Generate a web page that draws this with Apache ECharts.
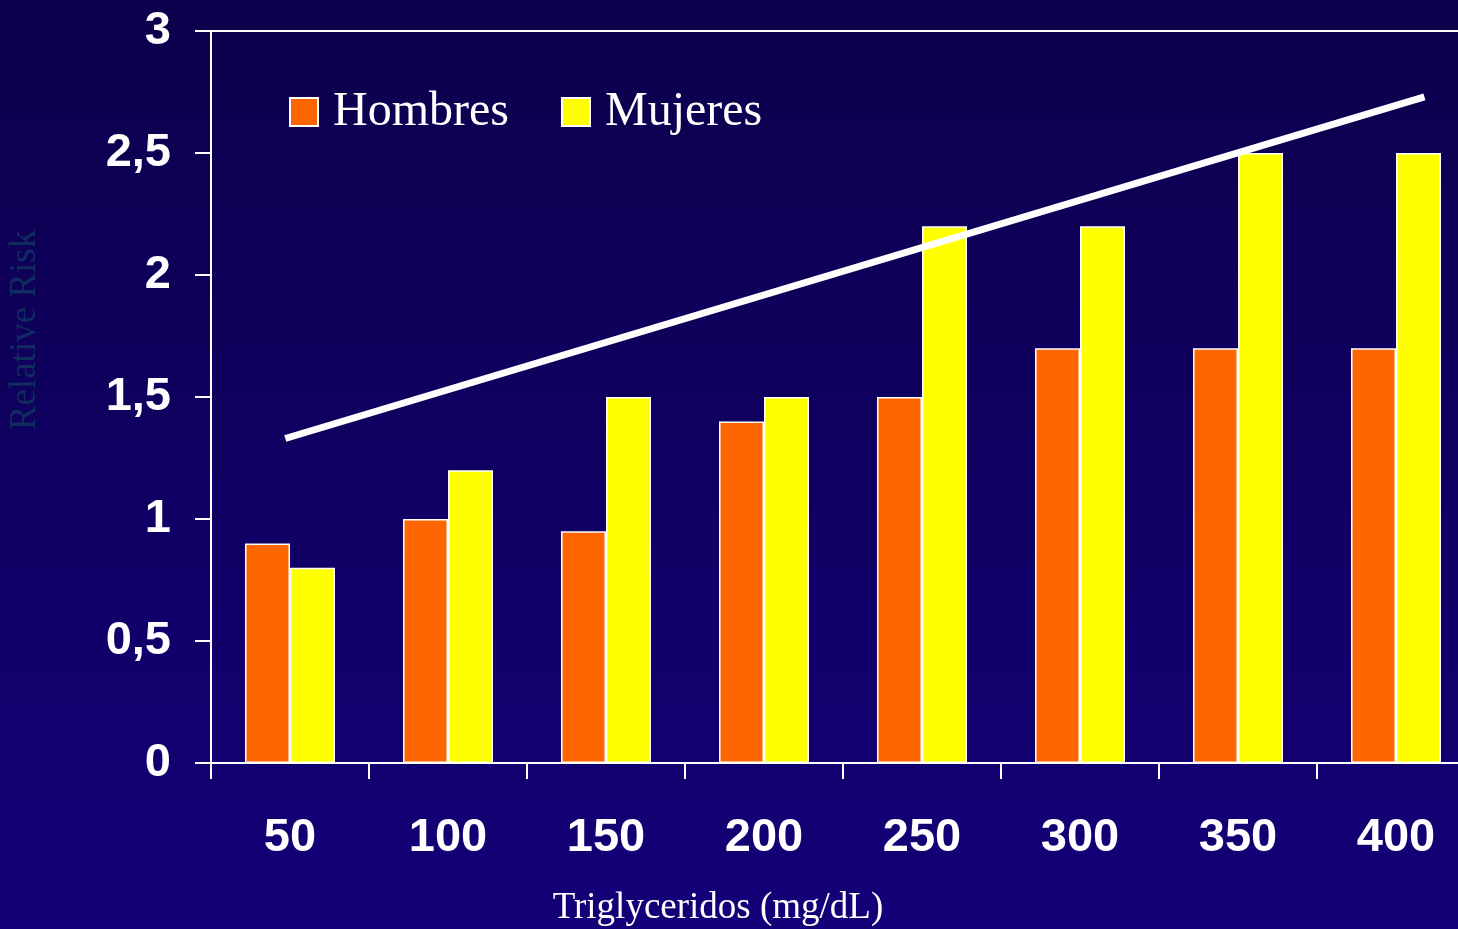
<!DOCTYPE html>
<html>
<head>
<meta charset="utf-8">
<script src="https://cdn.jsdelivr.net/npm/echarts@6/dist/echarts.min.js"></script>
<style>
html,body{margin:0;padding:0;overflow:hidden;width:1458px;height:929px;background:#10005f;}
#c{width:1475px;height:929px;}
</style>
</head>
<body>
<div id="c"></div>
<script>
const categories = ['50','100','150','200','250','300','350','400'];
const hombres = [0.9, 1.0, 0.95, 1.4, 1.5, 1.7, 1.7, 1.7];
const mujeres = [0.8, 1.2, 1.5, 1.5, 2.2, 2.2, 2.5, 2.5];
const trendX = [0.47, 7.68];
const trendY = [1.33, 2.73];
const seriesNames = ['Hombres', 'Mujeres'];
const xAxisTitle = 'Triglyceridos (mg/dL)';
const yAxisTitle = 'Relative Risk';

const chart = echarts.init(document.getElementById('c'));
const white = '#ffffff';
const labelFont = {color: white, fontFamily: 'Liberation Sans', fontWeight: 'bold', fontSize: 47};
chart.setOption({
  backgroundColor: {type:'linear', x:0, y:0, x2:0, y2:1, colorStops:[{offset:0,color:'#0c004c'},{offset:1,color:'#140078'}]},
  animation: false,
  grid: {left: 211, top: 31, right: 0, bottom: 166, containLabel: false},
  legend: {
    left: 284, top: 83, itemWidth: 28, itemHeight: 28, itemGap: 52, icon: 'rect',
    itemStyle: {borderColor: white, borderWidth: 2},
    textStyle: {color: white, fontFamily: 'Liberation Serif', fontSize: 48, padding: [0,0,0,10]},
    data: seriesNames
  },
  xAxis: [
    {type: 'category', data: categories, boundaryGap: true,
     axisLine: {show: true, lineStyle: {color: white, width: 2}},
     axisTick: {show: true, alignWithLabel: false, interval: 0, length: 16, lineStyle: {color: white, width: 2}},
     axisLabel: Object.assign({margin: 52}, labelFont),
     splitLine: {show: false}},
    {type: 'category', data: categories, position: 'top',
     axisLine: {show: true, lineStyle: {color: white, width: 2}},
     axisTick: {show: false}, axisLabel: {show: false}, splitLine: {show: false}},
    {type: 'value', min: 0, max: 8, show: false}
  ],
  yAxis: {
    type: 'value', min: 0, max: 3, interval: 0.5,
    axisLine: {show: true, lineStyle: {color: white, width: 2}},
    axisTick: {show: true, length: 16, lineStyle: {color: white, width: 2}},
    axisLabel: Object.assign({margin: 40, formatter: v => String(v).replace('.', ',')}, labelFont),
    splitLine: {show: false}
  },
  graphic: [
    {type: 'text', x: 25, y: 330, rotation: Math.PI/2,
     style: {text: yAxisTitle, fill: '#0f2d5e', font: '37px "Liberation Serif"', textAlign: 'center', textVerticalAlign: 'middle'}},
    {type: 'text', x: 718, y: 908,
     style: {text: xAxisTitle, fill: white, font: '37px "Liberation Serif"', textAlign: 'center', textVerticalAlign: 'middle'}}
  ],
  series: [
    {name: seriesNames[0], type: 'bar', data: hombres, barWidth: 45, barGap: '0%',
     itemStyle: {color: '#ff6600', borderColor: white, borderWidth: 1.5}},
    {name: seriesNames[1], type: 'bar', data: mujeres, barWidth: 45, barGap: '0%',
     itemStyle: {color: '#ffff00', borderColor: white, borderWidth: 1.5}},
    {name: 'trend', type: 'line', xAxisIndex: 2, data: trendX.map((x, i) => [x, trendY[i]]),
     symbol: 'none', lineStyle: {color: white, width: 7}, silent: true}
  ]
});
</script>
</body>
</html>
